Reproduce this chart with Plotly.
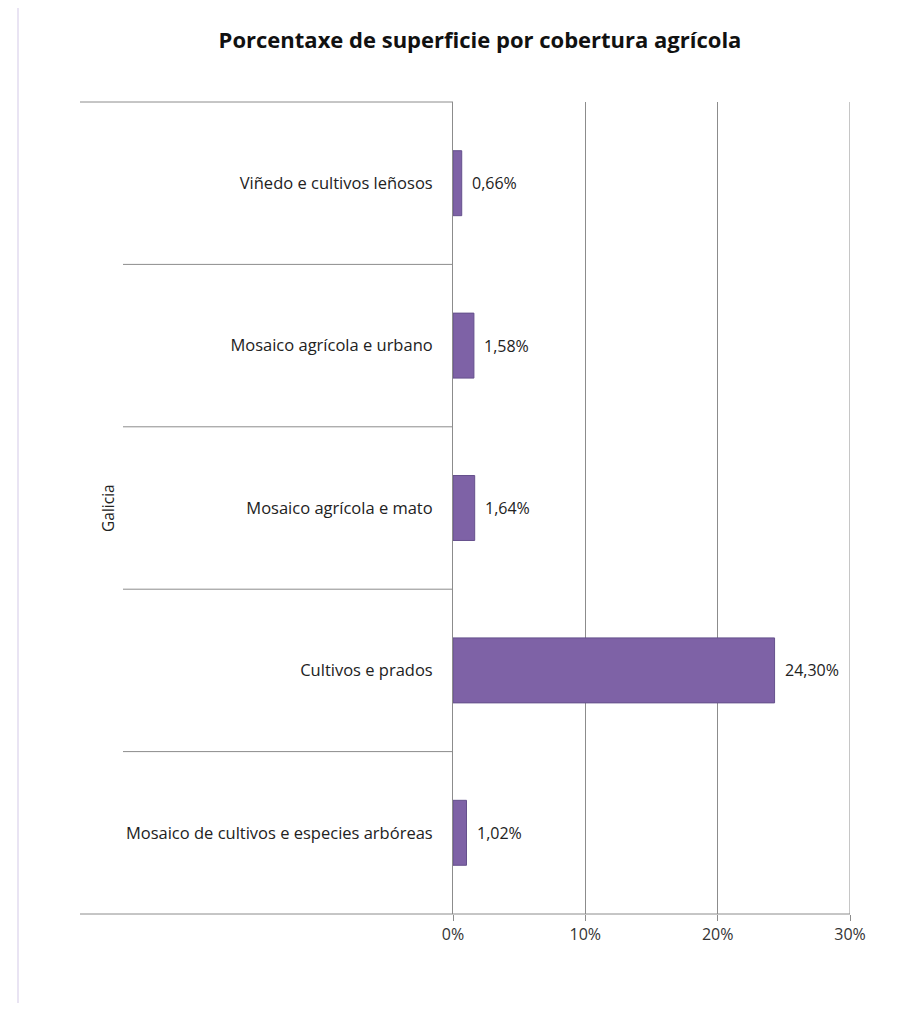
import plotly.graph_objects as go

categories = [
    "Viñedo e cultivos leñosos",
    "Mosaico agrícola e urbano",
    "Mosaico agrícola e mato",
    "Cultivos e prados",
    "Mosaico de cultivos e especies arbóreas",
]
values = [0.66, 1.58, 1.64, 24.30, 1.02]
value_labels = ["0,66%", "1,58%", "1,64%", "24,30%", "1,02%"]
tick_vals = [0, 10, 20, 30]
tick_text = ["0%", "10%", "20%", "30%"]
group_label = "Galicia"
title = "Porcentaxe de superficie por cobertura agrícola"

OFF = 8  # page body margin
W, H = 908, 995
L, R, T, B = 453 - OFF, 850 - OFF, 102 - OFF, 914 - OFF
pw, ph = R - L, B - T

def px_x(p):
    return (p - OFF - L) / pw

def px_y(p):
    return (B - (p - OFF)) / ph

FONT = "Open Sans"
GRID = "#8C8C8C"

fig = go.Figure()
fig.add_trace(go.Bar(
    x=values, y=categories, orientation="h", width=0.4,
    marker=dict(color="#7E62A6", line=dict(color="#65508C", width=1)),
    hoverinfo="skip",
))

for v, c, t in zip(values, categories, value_labels):
    fig.add_annotation(x=v, y=c, text=t, showarrow=False, xanchor="left",
                       xshift=8, font=dict(family=FONT, size=16, color="#222"))

shapes = []
for k in range(len(categories) - 1):
    shapes.append(dict(type="line", xref="paper", yref="y",
                       x0=px_x(123), x1=0, y0=k + 0.5, y1=k + 0.5,
                       line=dict(color=GRID, width=1)))
shapes.append(dict(type="line", xref="paper", yref="paper",
                   x0=px_x(80), x1=0, y0=1, y1=1, line=dict(color=GRID, width=1)))
shapes.append(dict(type="line", xref="paper", yref="paper",
                   x0=px_x(80), x1=1, y0=0, y1=0, line=dict(color=GRID, width=1)))
shapes.append(dict(type="line", xref="x", yref="paper",
                   x0=tick_vals[-1], x1=tick_vals[-1], y0=0, y1=1,
                   line=dict(color=GRID, width=1)))
shapes.append(dict(type="rect", xref="paper", yref="paper",
                   x0=px_x(18), x1=px_x(940), y0=px_y(1030), y1=px_y(4),
                   line=dict(color="#E2DCF0", width=1.5), fillcolor="rgba(0,0,0,0)",
                   layer="below"))

fig.add_annotation(xref="paper", yref="paper", x=px_x(95), y=px_y(508),
                   text=group_label, textangle=-90, showarrow=False,
                   font=dict(family=FONT, size=15.5, color="#222"))

fig.update_layout(
    width=W, height=H,
    margin=dict(l=L, r=W - R, t=T, b=H - B, pad=0),
    paper_bgcolor="white", plot_bgcolor="white",
    showlegend=False,
    shapes=shapes,
    title=dict(text="<b>" + title + "</b>", x=px_x(480), xanchor="center",
               y=1 - (40 - OFF) / H, yanchor="middle", xref="paper",
               font=dict(family=FONT, size=22, color="#111")),
    xaxis=dict(range=[0, 30], tickvals=tick_vals, ticktext=tick_text,
               showgrid=True, gridcolor=GRID, gridwidth=1, zeroline=False,
               showline=False, ticks="outside", ticklen=6, tickcolor=GRID,
               tickfont=dict(family=FONT, size=16, color="#333"),
               fixedrange=True),
    yaxis=dict(categoryorder="array", categoryarray=categories,
               autorange="reversed", showgrid=False, zeroline=False,
               showline=True, linecolor=GRID, linewidth=1, ticks="",
               ticklabelstandoff=16,
               tickfont=dict(family=FONT, size=16.5, color="#222"),
               fixedrange=True),
)

fig.write_html("out.html")
